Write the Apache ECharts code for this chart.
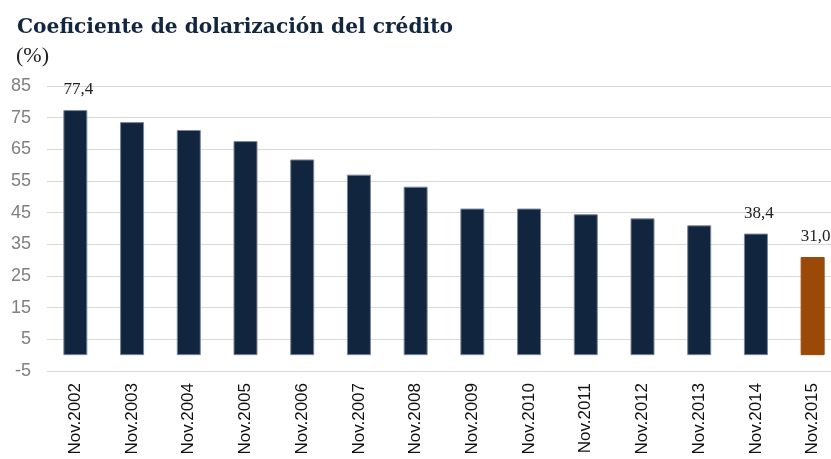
<!DOCTYPE html>
<html>
<head>
<meta charset="utf-8">
<script src="https://cdn.jsdelivr.net/npm/echarts@6/dist/echarts.min.js"></script>
<style>html,body{margin:0;padding:0;background:#fff;}#c{width:831px;height:459px;}</style>
</head>
<body>
<div id="c"></div>
<script>
const categories = ["Nov.2002","Nov.2003","Nov.2004","Nov.2005","Nov.2006","Nov.2007","Nov.2008","Nov.2009","Nov.2010","Nov.2011","Nov.2012","Nov.2013","Nov.2014","Nov.2015"];
const values = [77.4, 73.6, 71.1, 67.6, 61.8, 57.0, 53.2, 46.3, 46.3, 44.5, 43.2, 41.0, 38.4, 31.0];
const labeled = [0, 12, 13];
const highlightIndex = 13;
const yTicks = [-5, 5, 15, 25, 35, 45, 55, 65, 75, 85];

const chart = echarts.init(document.getElementById('c'));
const data = values.map((v, i) => ({
  value: v,
  itemStyle: { color: i === highlightIndex ? '#9a4a06' : '#12253f', borderColor: i === highlightIndex ? '#9a4a06' : '#7a879a' },
  label: { show: labeled.includes(i) }
}));
chart.setOption({
  animation: false,
  title: [
    { text: 'Coeficiente de dolarización del crédito', left: 12, top: 13,
      textStyle: { fontFamily: 'DejaVu Serif', fontWeight: 'bold', fontSize: 20.2, color: '#13263f' } },
    { text: '(%)', left: 11, top: 40,
      textStyle: { fontFamily: 'Liberation Serif', fontWeight: 'normal', fontSize: 22, color: '#222' } }
  ],
  grid: { left: 47, width: 794, top: 86, bottom: 88, containLabel: false, outerBoundsMode: 'none' },
  xAxis: {
    type: 'category', data: categories,
    axisLine: { show: false }, axisTick: { show: false },
    axisLabel: { rotate: 90, interval: 0, margin: 12, fontFamily: 'Liberation Sans', fontSize: 17, color: '#111' }
  },
  yAxis: {
    type: 'value', min: -5, max: 85, interval: 10,
    axisLine: { show: false }, axisTick: { show: false },
    axisLabel: { margin: 16, fontFamily: 'Liberation Sans', fontSize: 18, color: '#808080',
      customValues: yTicks },
    splitLine: { lineStyle: { color: '#d9d9d9', width: 1 } }
  },
  series: [{
    type: 'bar', data: data, barWidth: 24,
    itemStyle: { borderWidth: 1 },
    label: { position: 'top', distance: 12, offset: [3, 0], fontFamily: 'Liberation Serif', fontSize: 17, color: '#222',
      formatter: p => p.value.toFixed(1).replace('.', ',') }
  }]
});
</script>
</body>
</html>
